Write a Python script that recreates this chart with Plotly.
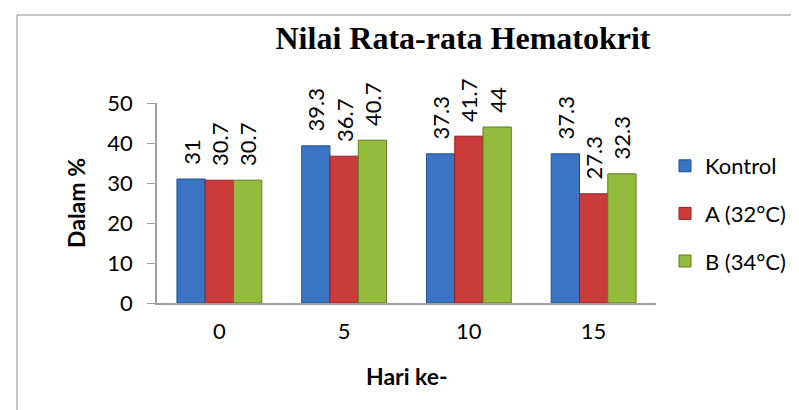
import plotly.graph_objects as go

hari = ["0", "5", "10", "15"]
kontrol = [31, 39.3, 37.3, 37.3]
grup_a = [30.7, 36.7, 41.7, 27.3]
grup_b = [30.7, 40.7, 44, 32.3]
y_ticks = [0, 10, 20, 30, 40, 50]

W, H = 799, 410
L, R, T, B = 149, 151, 95, 115
pw, ph = W - L - R, H - T - B

series = [
    ("Kontrol", kontrol, "#3b74c2", "#24508f"),
    ("A (32°C)", grup_a, "#cc3b3b", "#8e2424"),
    ("B (34°C)", grup_b, "#94bb3c", "#617d24"),
]

fig = go.Figure()
for i, (name, vals, col, edge) in enumerate(series):
    fig.add_trace(go.Bar(
        x=hari, y=vals, name=name, legendgroup=name,
        marker=dict(color=col, line=dict(color=edge, width=1)),
        text=["\u00a0\u00a0" + f"{v:g}" for v in vals], textposition="outside",
        textangle=-90, cliponaxis=False,
        textfont=dict(family="Lato, Open Sans, sans-serif", size=22, color="black"),
    ))

def px_x(p):
    return (p - L) / pw

def px_y(p):
    return (H - B - p) / ph

fig.update_layout(
    width=W, height=H,
    margin=dict(l=L, r=R, t=T, b=B),
    paper_bgcolor="white", plot_bgcolor="white",
    barmode="group", bargap=0.32, bargroupgap=0,
    uniformtext=dict(minsize=22, mode="show"),
    title=dict(text="<b>Nilai Rata-rata Hematokrit</b>",
               font=dict(family="Liberation Serif, Times New Roman, serif", size=32, color="black"),
               x=455 / W, xanchor="center", y=1 - 30 / H, yanchor="middle"),
    font=dict(family="Lato, Open Sans, sans-serif", size=22, color="black"),
    xaxis=dict(showline=True, linecolor="#a0a0a0", linewidth=1.5, ticks="",
               ticklabelstandoff=8, tickfont=dict(size=22)),
    yaxis=dict(range=[0, 50], tickvals=y_ticks, showgrid=False, zeroline=False,
               showline=True, linecolor="#a0a0a0", linewidth=1.5,
               ticks="outside", ticklen=8, tickcolor="#a0a0a0",
               ticklabelstandoff=10,
               title=dict(text="<b>Dalam %</b>", font=dict(size=23), standoff=15),
               tickfont=dict(size=22)),
    legend=dict(x=px_x(657), y=px_y(137), xanchor="left", yanchor="top",
                font=dict(size=22), tracegroupgap=16, itemwidth=30),
    showlegend=True,
    annotations=[dict(text="<b>Hari ke-</b>", xref="paper", yref="paper",
                      x=0.5, y=px_y(368), xanchor="center", yanchor="middle",
                      showarrow=False, font=dict(size=23))],
    shapes=[dict(type="rect", xref="paper", yref="paper",
                 x0=px_x(9), x1=px_x(820), y0=px_y(430), y1=px_y(7),
                 line=dict(color="#8c8c8c", width=1))],
)

fig.write_html("out.html")
